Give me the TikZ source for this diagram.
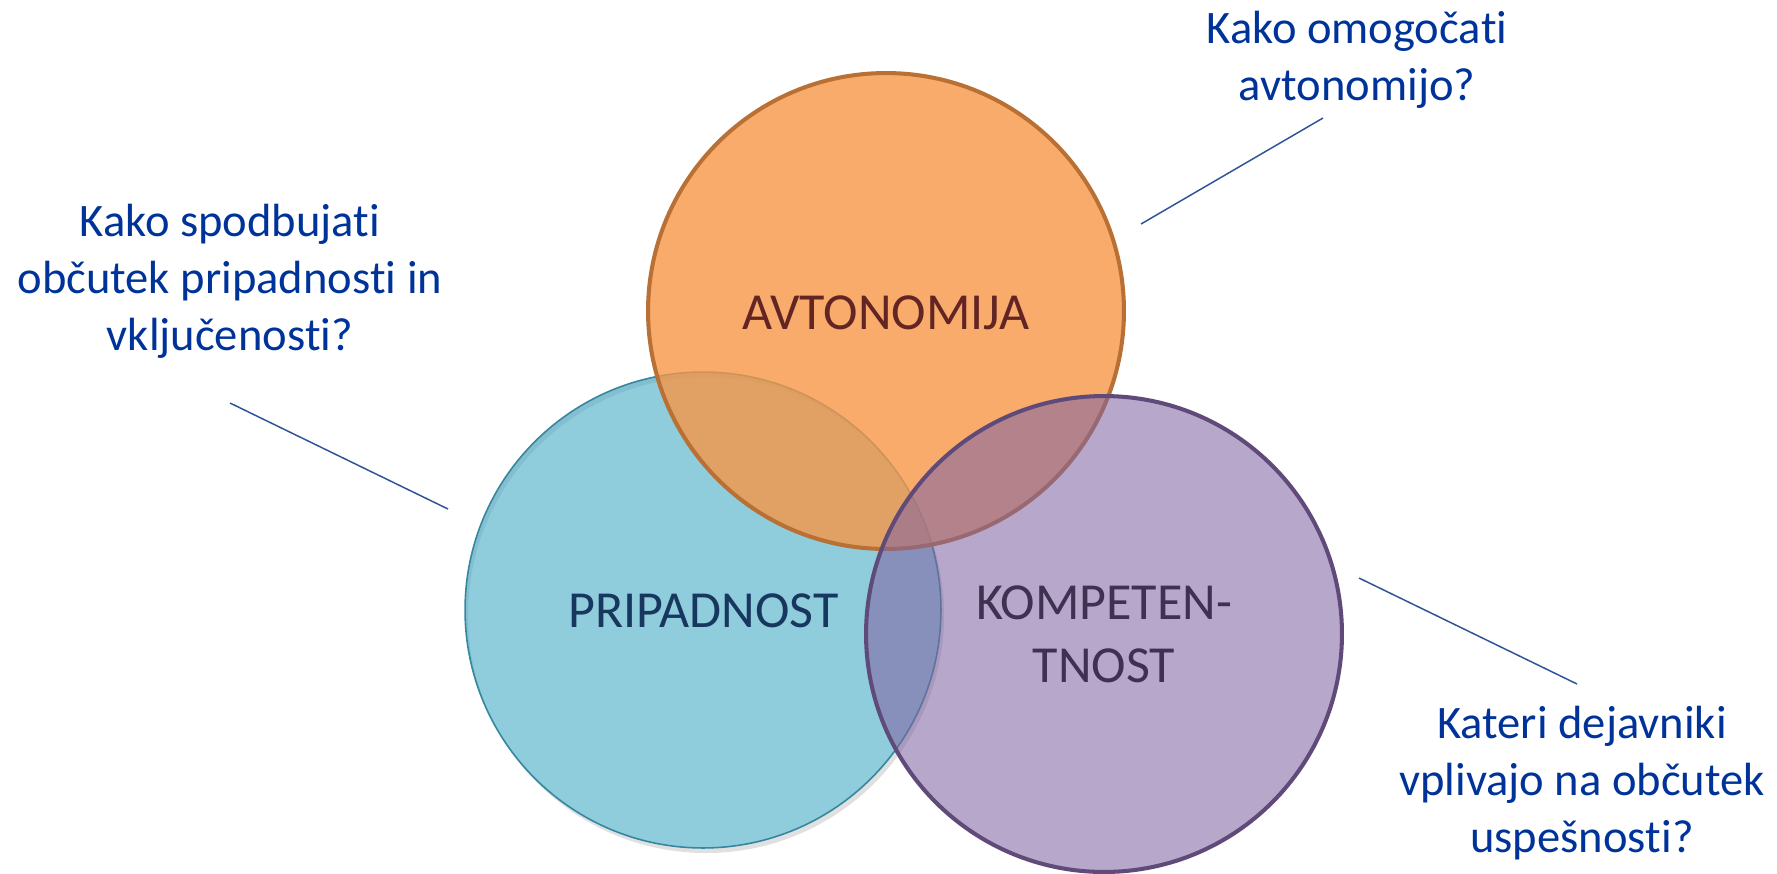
\documentclass[tikz,border=0pt]{standalone}
\usepackage{fontspec}
\setmainfont{Carlito}[Ligatures={NoCommon,NoRare,NoContextual},Contextuals=NoAlternate]
\definecolor{orFill}{HTML}{F79646}
\definecolor{orLine}{HTML}{B87034}
\definecolor{puFill}{HTML}{8064A2}
\definecolor{puLine}{HTML}{5F4A7A}
\definecolor{blFill}{HTML}{4BACC6}
\definecolor{blLine}{HTML}{34879E}
\definecolor{qBlue}{HTML}{003399}
\definecolor{lnBlue}{HTML}{2F5597}
\definecolor{avTxt}{HTML}{632523}
\definecolor{prTxt}{HTML}{17375E}
\definecolor{koTxt}{HTML}{3F3151}
\tikzset{
  venn/.style={circle, minimum size=9.52cm, inner sep=0pt, outer sep=0pt},
  qlabel/.style={font=\fontsize{26.5}{32.7}\selectfont, text=qBlue, inner sep=0pt, anchor=base},
  clabel/.style={font=\fontsize{29.6}{36.4}\selectfont, inner sep=0pt, anchor=base},
  leader/.style={draw=lnBlue, line width=0.85pt}
}
\begin{document}
\begin{tikzpicture}[x=0.02cm,y=-0.02cm]
\useasboundingbox (0,0) rectangle (1777,873);
% shadow of the blue circle (outside only)
\fill[black, opacity=0.12, even odd rule] (706,615) circle[radius=238] (703,610) circle[radius=238];
% circles
\node[venn, fill=blFill, fill opacity=0.62, draw=blLine, line width=0.9pt] (bl) at (703,610) {};
\node[venn, fill=orFill, fill opacity=0.8, draw=orLine, line width=2.3pt] (or) at (886,311) {};
\node[venn, fill=puFill, fill opacity=0.57, draw=puLine, line width=2.3pt] (pu) at (1104,634) {};
% circle labels
\node[clabel, text=avTxt] (avt) at (886,329) {AVTONOMIJA};
\node[clabel, text=prTxt] (pri) at (703.5,627) {PRIPADNOST};
\node[clabel, text=koTxt] (kom) at (1104,619) {\begin{tabular}[t]{@{}c@{}}KOMPETEN-\\TNOST\end{tabular}};
% questions
\node[qlabel] (q1) at (1357,43) {\begin{tabular}[t]{@{}c@{}}Kako omogoča\kern0pt ti\\avtonomijo?\end{tabular}};
\node[qlabel] (q2) at (230,236) {\begin{tabular}[t]{@{}c@{}}Kako spodbuja\kern0pt ti\\občutek pripadnos\kern0pt ti in\\vključenos\kern0pt ti?\end{tabular}};
\node[qlabel] (q3) at (1582,738) {\begin{tabular}[t]{@{}c@{}}Kateri dejavniki\\vplivajo na občutek\\uspešnos\kern0pt ti?\end{tabular}};
% leader lines
\coordinate (l1a) at (1141,224);
\coordinate (l1b) at (1323,118);
\coordinate (l2a) at (230,403);
\coordinate (l2b) at (448,509);
\coordinate (l3a) at (1359,578);
\coordinate (l3b) at (1577,684);
\draw[leader] (l1a) -- (l1b);
\draw[leader] (l2a) -- (l2b);
\draw[leader] (l3a) -- (l3b);
\end{tikzpicture}
\end{document}
